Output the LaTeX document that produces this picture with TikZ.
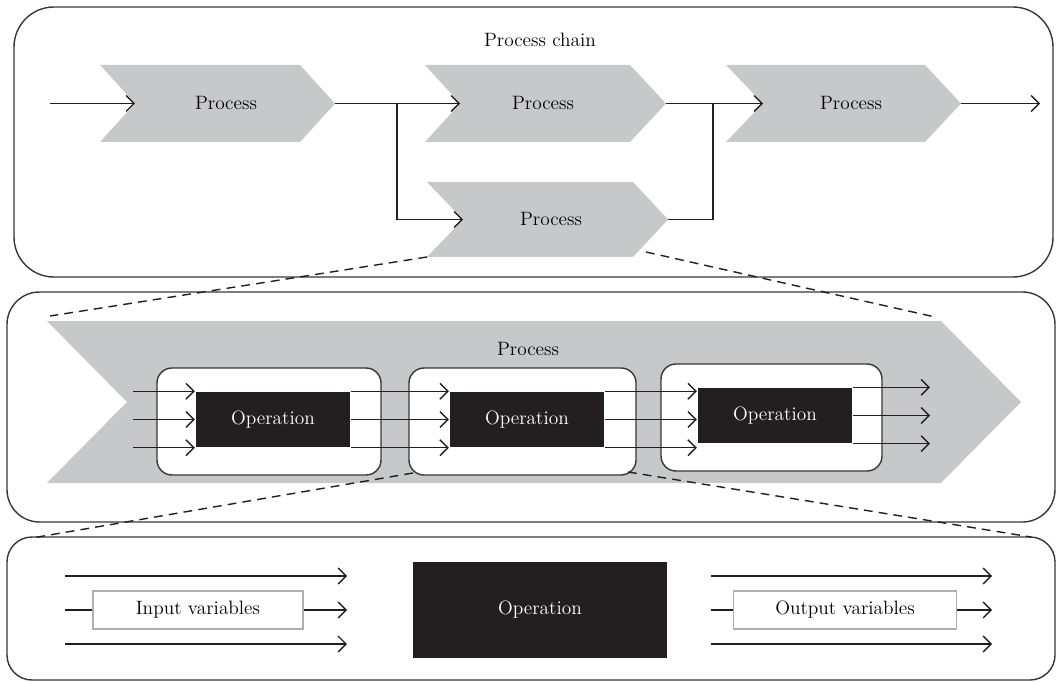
\documentclass[tikz,border=0pt]{standalone}
\usepackage{tikz}
\usetikzlibrary{arrows.meta,calc}

\definecolor{procgray}{RGB}{199,200,202}
\definecolor{opblack}{RGB}{35,31,32}
\definecolor{frameline}{RGB}{55,55,55}
\definecolor{varline}{RGB}{175,175,175}

\begin{document}
\begin{tikzpicture}[x=0.02cm,y=-0.02cm,
        font=\fontsize{11}{13}\selectfont,
        >={Straight Barb[length=4.5pt,width=9pt]},
        every path/.style={line width=0.8pt},
        panel/.style={draw=frameline},
        chevron/.style={fill=procgray},
        wire/.style={draw=opblack},
        zoomline/.style={draw=opblack,dash pattern=on 5pt off 3.5pt},
        opframe/.style={draw=frameline,fill=white,rounded corners=0.3cm},
        opbox/.style={fill=opblack,text=white,inner sep=0pt,minimum height=1.1cm,minimum width=3.1cm},
        varbox/.style={draw=varline,fill=white,inner sep=0pt,minimum height=0.76cm}]
        \useasboundingbox (0,0) rectangle (1058,682);

        % Process chain panel
        \draw[panel,rounded corners=0.8cm] (14,7) rectangle (1053,277);
        \node (chaintitle) at (540,40) {Process chain};

        % Chevrons
        \fill[chevron] (100,65) -- (300,65) -- (335,103.5) -- (300,142) -- (100,142) -- (135,103.5) -- cycle;
        \fill[chevron] (425,65) -- (630,65) -- (666,103.5) -- (630,142) -- (425,142) -- (460,103.5) -- cycle;
        \fill[chevron] (726,65) -- (925,65) -- (961,103.5) -- (925,142) -- (726,142) -- (763,103.5) -- cycle;
        \fill[chevron] (427,182) -- (633,182) -- (668,219.5) -- (633,257) -- (427,257) -- (463,219.5) -- cycle;
        \node (p1) at (226,103) {Process};
        \node (p2) at (543,103) {Process};
        \node (p3) at (851,103) {Process};
        \node (p4) at (551,219) {Process};

        % Chevron ends
        \coordinate (p1in) at (135,103.5);
        \coordinate (p1out) at (335,103.5);
        \coordinate (p2in) at (460,103.5);
        \coordinate (p2out) at (666,103.5);
        \coordinate (p3in) at (763,103.5);
        \coordinate (p3out) at (961,103.5);
        \coordinate (p4in) at (463,219.5);
        \coordinate (p4out) at (668,219.5);
        \coordinate (chainin) at (50,103.5);
        \coordinate (chainout) at (1040,103.5);
        \coordinate (split) at (397,103.5);
        \coordinate (merge) at (713,103.5);

        % Flow
        \draw[wire,->] (chainin) -- (p1in);
        \draw[wire,->] (p1out) -- (p2in);
        \draw[wire,->] (split) |- (p4in);
        \draw[wire,->] (p2out) -- (p3in);
        \draw[wire] (p4out) -| (merge);
        \draw[wire,->] (p3out) -- (chainout);

        % Process panel
        \draw[panel,rounded corners=0.65cm] (7,292) rectangle (1055,522);
        \fill[chevron] (47,321) -- (941,321) -- (1021,402) -- (941,483) -- (47,483) -- (127,402) -- cycle;
        \node (proctitle) at (528,349) {Process};

        % Zoom from chain to process
        \draw[zoomline] (427,257) -- (50,316);
        \draw[zoomline] (646,252) -- (935,317);

        % Operation frames
        \draw[opframe] (157,368) rectangle (381,475);
        \draw[opframe] (409,368) rectangle (636,475);
        \draw[opframe] (661,364) rectangle (882,471);
        \node[opbox] (op1) at (273,419.5) {Operation};
        \node[opbox] (op2) at (527,419.5) {Operation};
        \node[opbox] (op3) at (775,415.5) {Operation};

        % Operation links
        \coordinate (opin) at (133,419.5);
        \coordinate (opout) at (930,415.5);
        \draw[wire,->] (op1.north west -| opin) -- (op1.north west);
        \draw[wire,->] (op1.west -| opin) -- (op1.west);
        \draw[wire,->] (op1.south west -| opin) -- (op1.south west);
        \draw[wire,->] (op1.north east) -- (op2.north west);
        \draw[wire,->] (op1.east) -- (op2.west);
        \draw[wire,->] (op1.south east) -- (op2.south west);
        \draw[wire,->] (op2.north east) -- (op2.north east -| op3.west);
        \draw[wire,->] (op2.east) -- (op2.east -| op3.west);
        \draw[wire,->] (op2.south east) -- (op2.south east -| op3.west);
        \draw[wire,->] (op3.north east) -- (op3.north east -| opout);
        \draw[wire,->] (op3.east) -- (op3.east -| opout);
        \draw[wire,->] (op3.south east) -- (op3.south east -| opout);

        % Operation panel
        \draw[panel,rounded corners=0.5cm] (7,537) rectangle (1055,680);
        \draw[zoomline] (413,473) -- (32,538);
        \draw[zoomline] (628,472) -- (1031,537);

        \node[opbox,minimum width=5.1cm,minimum height=1.92cm] (op) at (540,610) {Operation};
        \node[varbox,minimum width=4.2cm] (invar) at (198,610) {Input variables};
        \node[varbox,minimum width=4.46cm] (outvar) at (845,610) {Output variables};

        % Variables
        \coordinate (inL) at (65,610);
        \coordinate (inR) at (347,610);
        \coordinate (outL) at (711,610);
        \coordinate (outR) at (992,610);
        \draw[wire,->] ($(inL)+(0,-34)$) -- ($(inR)+(0,-34)$);
        \draw[wire] (inL) -- (invar.west);
        \draw[wire,->] (invar.east) -- (inR);
        \draw[wire,->] ($(inL)+(0,34)$) -- ($(inR)+(0,34)$);
        \draw[wire,->] ($(outL)+(0,-34)$) -- ($(outR)+(0,-34)$);
        \draw[wire] (outL) -- (outvar.west);
        \draw[wire,->] (outvar.east) -- (outR);
        \draw[wire,->] ($(outL)+(0,34)$) -- ($(outR)+(0,34)$);

        \end{tikzpicture}
\end{document}
